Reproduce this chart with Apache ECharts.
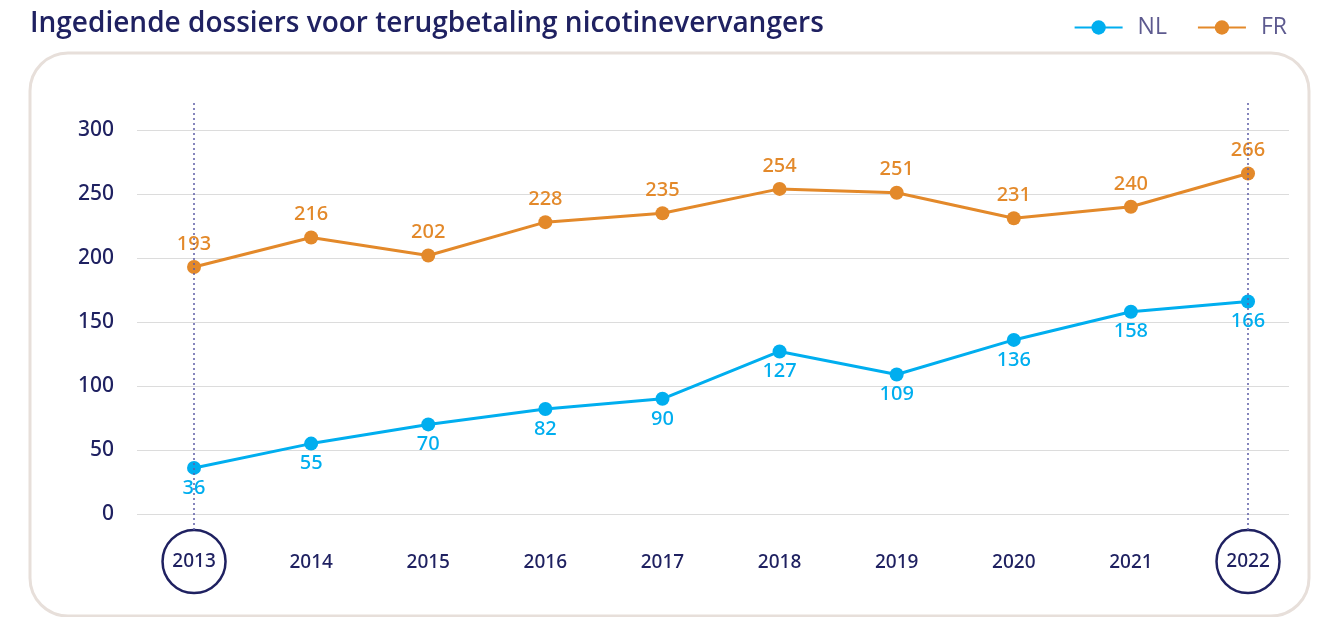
<!DOCTYPE html>
<html>
<head>
<meta charset="utf-8">
<script src="https://cdn.jsdelivr.net/npm/echarts@6/dist/echarts.min.js"></script>
<style>
  html, body { margin: 0; padding: 0; background: #fff; }
  #chart { width: 1332px; height: 617px; }
</style>
</head>
<body>
<div id="chart"></div>
<script>
const years = [2013, 2014, 2015, 2016, 2017, 2018, 2019, 2020, 2021, 2022];
const nl = [36, 55, 70, 82, 90, 127, 109, 136, 158, 166];
const fr = [193, 216, 202, 228, 235, 254, 251, 231, 240, 266];
const yTicks = [0, 50, 100, 150, 200, 250, 300];
const circled = [2013, 2022];

const navy = "#1f2161";
const font = "Noto Sans";

const chart = echarts.init(document.getElementById("chart"));

const xBase = {
  type: "value",
  min: 2012.513,
  max: 2022.35,
  axisLine: { show: false },
  axisTick: { show: false },
  splitLine: { show: false },
};

chart.setOption({
  animation: false,
  textStyle: { fontFamily: font },
  title: {
    text: "Ingediende dossiers voor terugbetaling nicotinevervangers",
    left: 25,
    top: 5,
    textStyle: {
      color: navy,
      fontSize: 28,
      fontWeight: 600,
      fontFamily: "Open Sans",
    },
  },
  legend: {
    right: 40,
    top: 11,
    itemWidth: 48,
    itemHeight: 18,
    itemGap: 30,
    textStyle: {
      color: "#5d5a8f",
      fontSize: 23,
      fontFamily: "Open Sans",
      padding: [0, 0, 0, 10],
    },
    data: ["NL", "FR"],
  },
  graphic: [
    {
      type: "rect",
      shape: { x: 30, y: 53, width: 1279, height: 563, r: 38 },
      style: { fill: "none", stroke: "#e7dfda", lineWidth: 3 },
      silent: true,
      z: -10,
    },
  ],
  grid: [
    { left: 137, right: 43, top: 130, bottom: 103 },
    { left: 137, right: 43, top: 100, bottom: 87 },
  ],
  xAxis: [
    {
      ...xBase,
      gridIndex: 0,
      axisLabel: {
        customValues: years,
        margin: 16,
        formatter(val) {
          return circled.includes(val) ? `{c|${val}}` : `{n|${val}}`;
        },
        rich: {
          c: {
            color: navy,
            fontSize: 19,
            fontWeight: 500,
            fontFamily: font,
            width: 63,
            height: 63,
            lineHeight: 63,
            align: "center",
            borderColor: navy,
            borderWidth: 2.5,
            borderRadius: 34,
          },
          n: {
            color: navy,
            fontSize: 19,
            fontWeight: 500,
            fontFamily: font,
            height: 66,
            lineHeight: 66,
            align: "center",
          },
        },
      },
    },
    { ...xBase, gridIndex: 1, axisLabel: { show: false } },
  ],
  yAxis: [
    {
      type: "value",
      gridIndex: 0,
      min: yTicks[0],
      max: yTicks[yTicks.length - 1],
      interval: yTicks[1] - yTicks[0],
      axisLine: { show: false },
      axisTick: { show: false },
      axisLabel: {
        color: navy,
        fontSize: 21,
        fontWeight: 500,
        margin: 23,
        fontFamily: font,
      },
      splitLine: { lineStyle: { color: "#dcdcdc", width: 1.2 } },
    },
    {
      type: "value",
      gridIndex: 1,
      min: 0,
      max: 1,
      show: false,
    },
  ],
  series: [
    {
      name: "guides",
      type: "line",
      xAxisIndex: 1,
      yAxisIndex: 1,
      data: circled.map((y) => [y, 0]),
      symbol: "none",
      lineStyle: { opacity: 0 },
      silent: true,
      z: 1,
      markLine: {
        silent: true,
        symbol: "none",
        label: { show: false },
        lineStyle: { color: "#5e5ea6", width: 1.5, type: [2, 3] },
        data: circled.map((y) => ({ xAxis: y })),
      },
    },
    {
      name: "NL",
      type: "line",
      data: years.map((y, i) => [y, nl[i]]),
      color: "#00aeef",
      symbol: "circle",
      symbolSize: 14,
      lineStyle: { width: 3 },
      z: 3,
      label: {
        show: true,
        position: "bottom",
        distance: 3,
        color: "#00aeef",
        fontSize: 20,
        fontWeight: 500,
        fontFamily: font,
      },
    },
    {
      name: "FR",
      type: "line",
      data: years.map((y, i) => [y, fr[i]]),
      color: "#e3892a",
      symbol: "circle",
      symbolSize: 14,
      lineStyle: { width: 3 },
      z: 3,
      label: {
        show: true,
        position: "top",
        distance: 6,
        color: "#e3892a",
        fontSize: 20,
        fontWeight: 500,
        fontFamily: font,
      },
    },
  ],
});
</script>
</body>
</html>
